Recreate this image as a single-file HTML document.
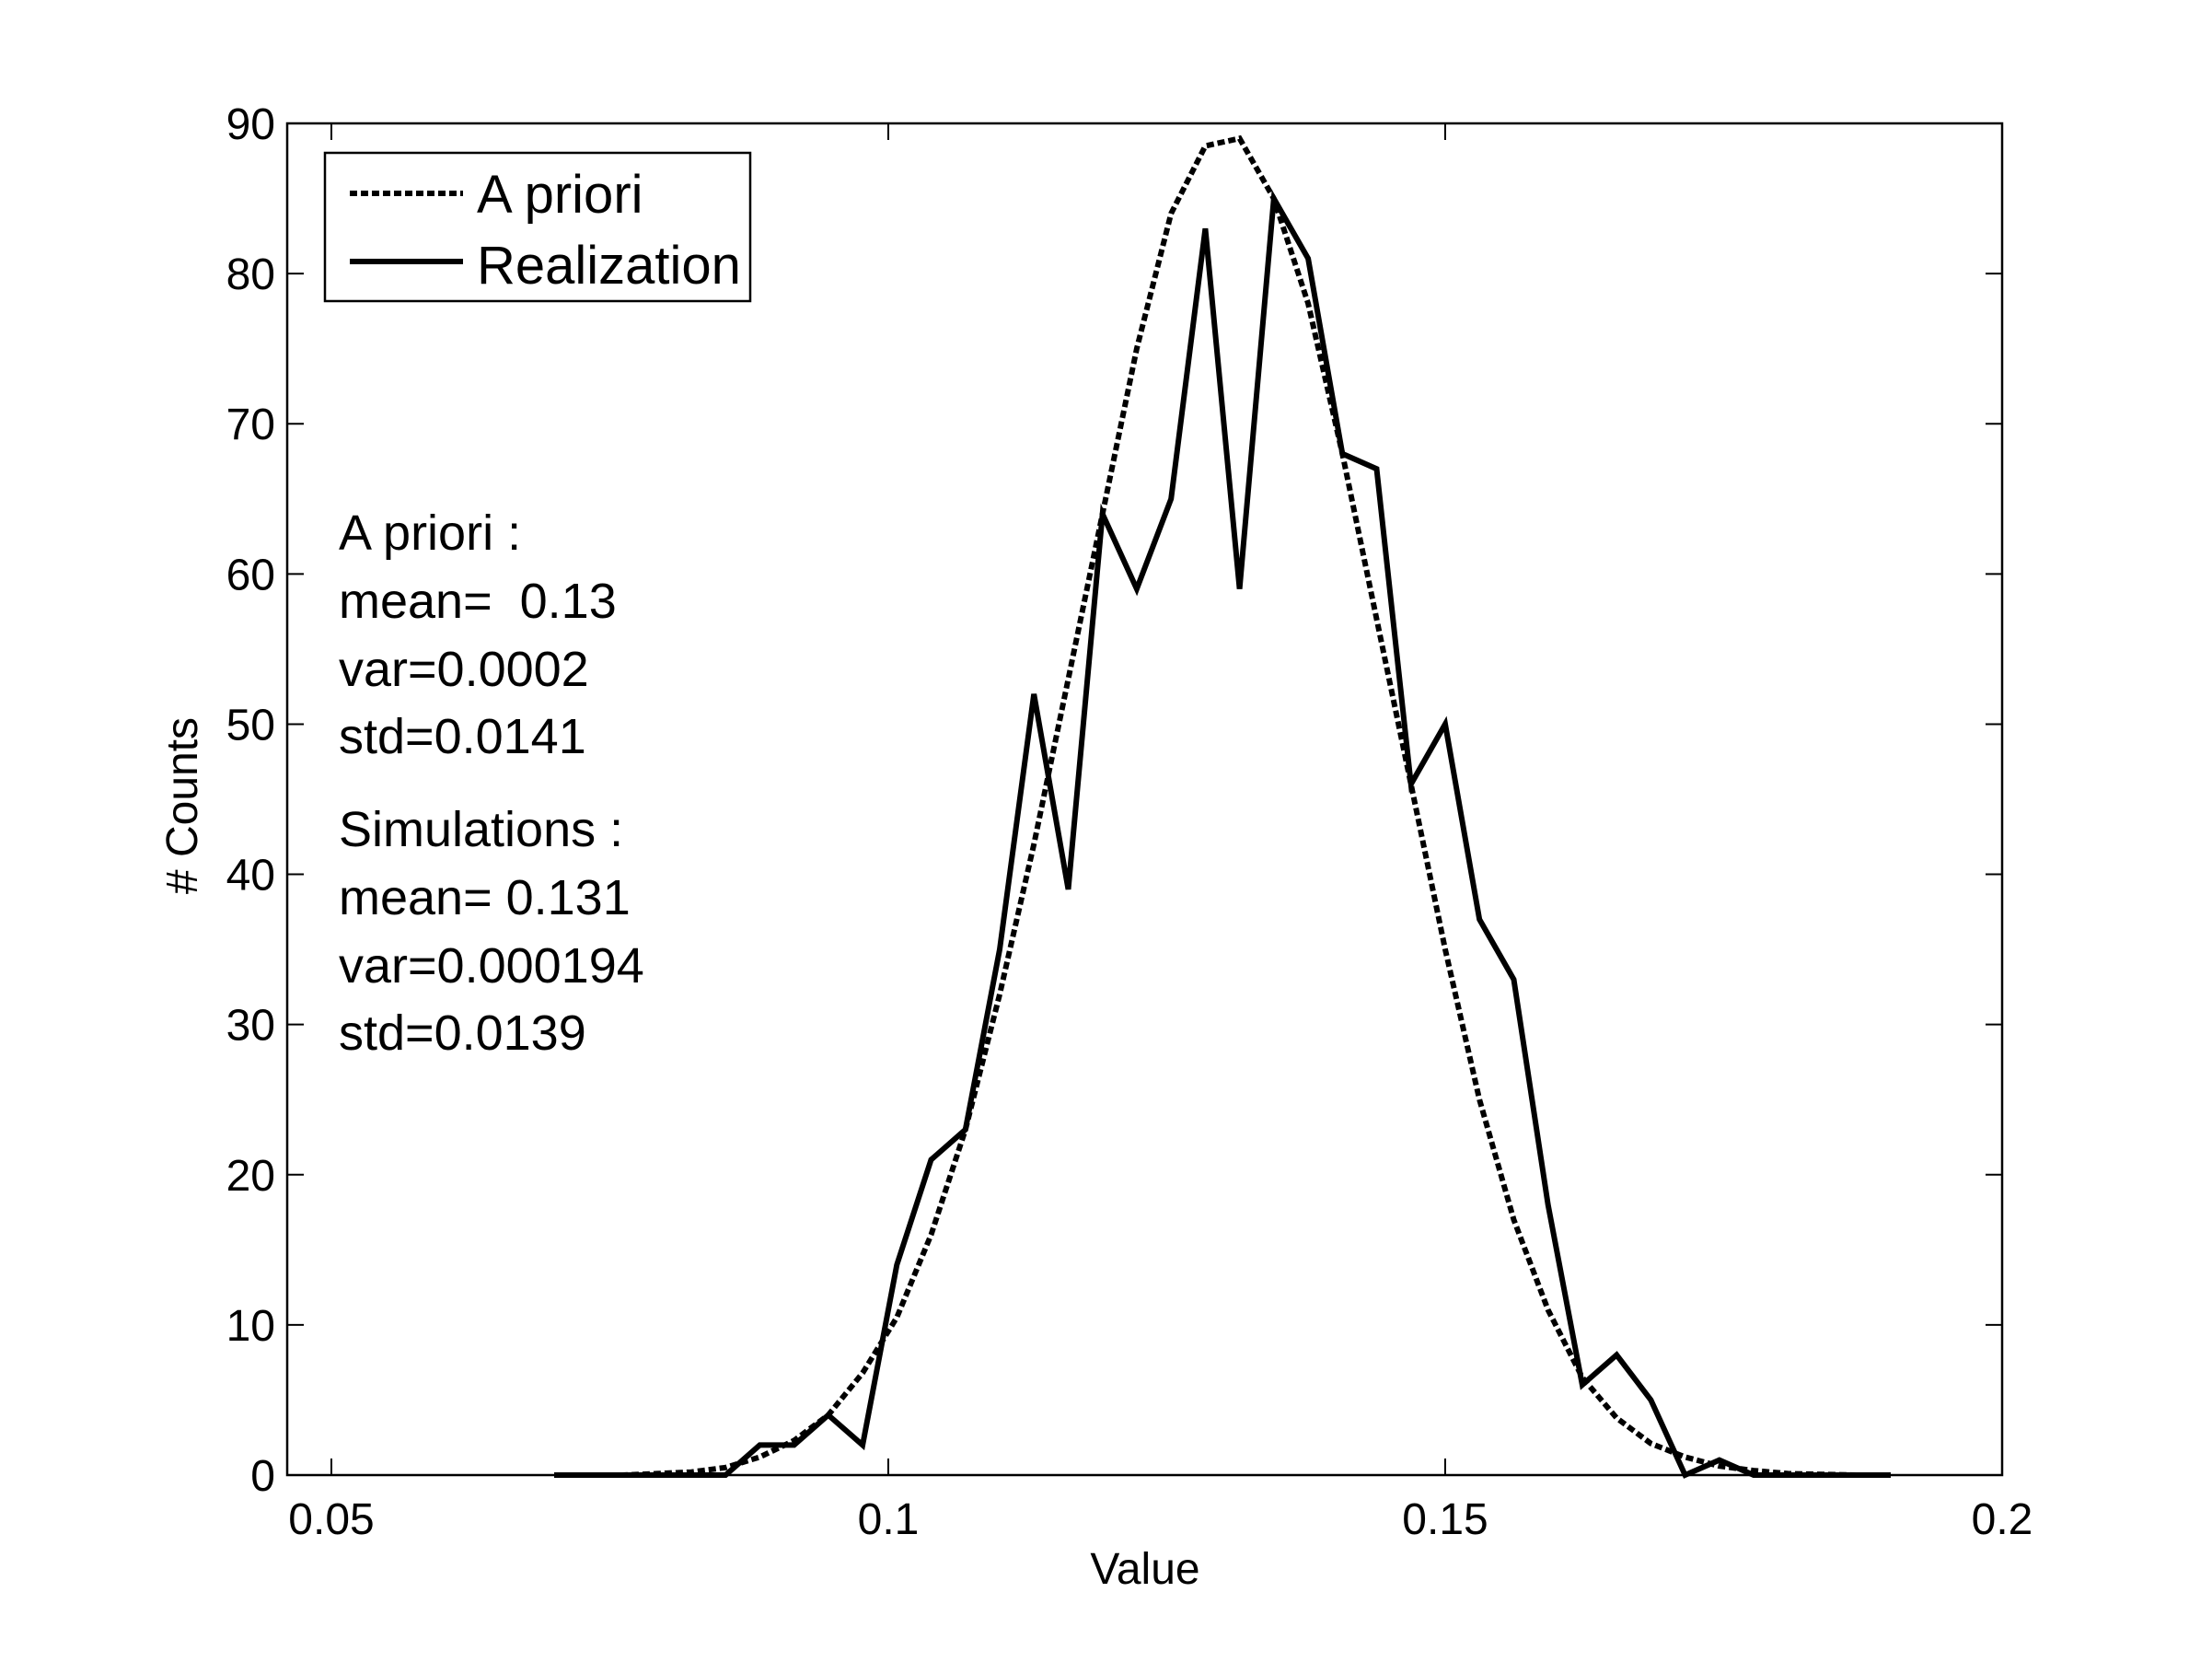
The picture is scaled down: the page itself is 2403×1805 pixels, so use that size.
<!DOCTYPE html>
<html><head><meta charset="utf-8"><style>
html,body{margin:0;padding:0;background:#fff}
svg text{font-family:"Liberation Sans",sans-serif;fill:#000}
</style></head><body>
<svg id="chart" width="2403" height="1800" viewBox="0 0 2403 1800" xmlns="http://www.w3.org/2000/svg">
<rect width="2403" height="1800" fill="#fff"/>
<g id="grid"></g>
<g id="series"></g>
<g id="ticks"></g>
<rect x="312" y="134" width="1863" height="1468" fill="none" stroke="#000" stroke-width="2.5"/>
<g>
<rect x="353" y="166" width="462" height="161" fill="#fff" stroke="#000" stroke-width="2.5"/>
<line x1="380" y1="210" x2="503" y2="210" stroke="#000" stroke-width="6" stroke-dasharray="8,4"/>
<text x="518" y="231" font-size="58">A priori</text>
<line x1="380" y1="284" x2="503" y2="284" stroke="#000" stroke-width="6"/>
<text x="518" y="308" font-size="58">Realization</text>
</g>
<g font-size="54">
<text x="368" y="597">A priori :</text>
<text x="368" y="671" xml:space="preserve">mean=  0.13</text>
<text x="368" y="745">var=0.0002</text>
<text x="368" y="818">std=0.0141</text>
<text x="368" y="919">Simulations :</text>
<text x="368" y="993">mean= 0.131</text>
<text x="368" y="1067">var=0.000194</text>
<text x="368" y="1140">std=0.0139</text>
</g>
<text x="1244" y="1720" font-size="48" text-anchor="middle">Value</text>
<text x="0" y="0" font-size="48" text-anchor="middle" transform="translate(214,875) rotate(-90)"># Counts</text>
</svg>
<script>
const xTicks = [0.05, 0.1, 0.15, 0.2];
const xTickLabels = ["0.05", "0.1", "0.15", "0.2"];
const yTicks = [0, 10, 20, 30, 40, 50, 60, 70, 80, 90];
const yTickLabels = ["0","10","20","30","40","50","60","70","80","90"];
const binStart = 0.07, binEnd = 0.19, binCount = 40;
const aprioriCounts = [0,0,0,0.1,0.2,0.5,1.2,2.3,4,6.8,10.5,16,23,32,42,53,64,75,84,88.5,89,85,78,68,57,46,35,25,17,11,6.5,3.8,2.1,1.2,0.6,0.3,0.1,0.05,0,0];
const realizationCounts = [0,0,0,0,0,0,2,2,4,2,14,21,23,35,52,39,64,59,65,83,59,85,81,68,67,46,50,37,33,18,6,8,5,0,1,0,0,0,0,0];

const NS = "http://www.w3.org/2000/svg";
function xs(v){ return 360 + (v - 0.05) / 0.15 * (2175 - 360); }
function ys(v){ return 1602 - v / 90 * (1602 - 134); }
function binX(i){ return binStart + i * (binEnd - binStart) / (binCount - 1); }

const ticks = document.getElementById('ticks');
xTicks.forEach((t, k) => {
  const x = xs(t);
  [[1602, 1584], [134, 152]].forEach(([a, b]) => {
    const l = document.createElementNS(NS, 'line');
    
    
    l.setAttribute('x1', x); l.setAttribute('x2', x);
    l.setAttribute('y1', a); l.setAttribute('y2', b);
    l.setAttribute('stroke', '#000'); l.setAttribute('stroke-width', '2');
    ticks.appendChild(l);
  });
  const tx = document.createElementNS(NS, 'text');
  
  
  tx.setAttribute('x', x); tx.setAttribute('y', 1666);
  tx.setAttribute('font-size', '48'); tx.setAttribute('text-anchor', 'middle');
  tx.textContent = xTickLabels[k];
  ticks.appendChild(tx);
});
yTicks.forEach((t, k) => {
  const y = ys(t);
  [[312, 330], [2175, 2157]].forEach(([a, b]) => {
    const l = document.createElementNS(NS, 'line');
    
    
    l.setAttribute('x1', a); l.setAttribute('x2', b);
    l.setAttribute('y1', y); l.setAttribute('y2', y);
    l.setAttribute('stroke', '#000'); l.setAttribute('stroke-width', '2');
    ticks.appendChild(l);
  });
  const tx = document.createElementNS(NS, 'text');
  
  
  tx.setAttribute('x', 299); tx.setAttribute('y', y + 17);
  tx.setAttribute('font-size', '48'); tx.setAttribute('text-anchor', 'end');
  tx.textContent = yTickLabels[k];
  ticks.appendChild(tx);
});

const series = document.getElementById('series');
function addLine(vals, name, dash){
  const p = document.createElementNS(NS, 'polyline');
  
  
  p.setAttribute('points', vals.map((v, i) => xs(binX(i)).toFixed(1) + ',' + ys(v).toFixed(1)).join(' '));
  p.setAttribute('fill', 'none'); p.setAttribute('stroke', '#000');
  p.setAttribute('stroke-width', '6');
  p.setAttribute('stroke-linejoin', 'miter');
  if (dash) p.setAttribute('stroke-dasharray', dash);
  series.appendChild(p);
}
addLine(aprioriCounts, 'apriori-line', '8,4');
addLine(realizationCounts, 'realization-line', null);
</script>
</body></html>
